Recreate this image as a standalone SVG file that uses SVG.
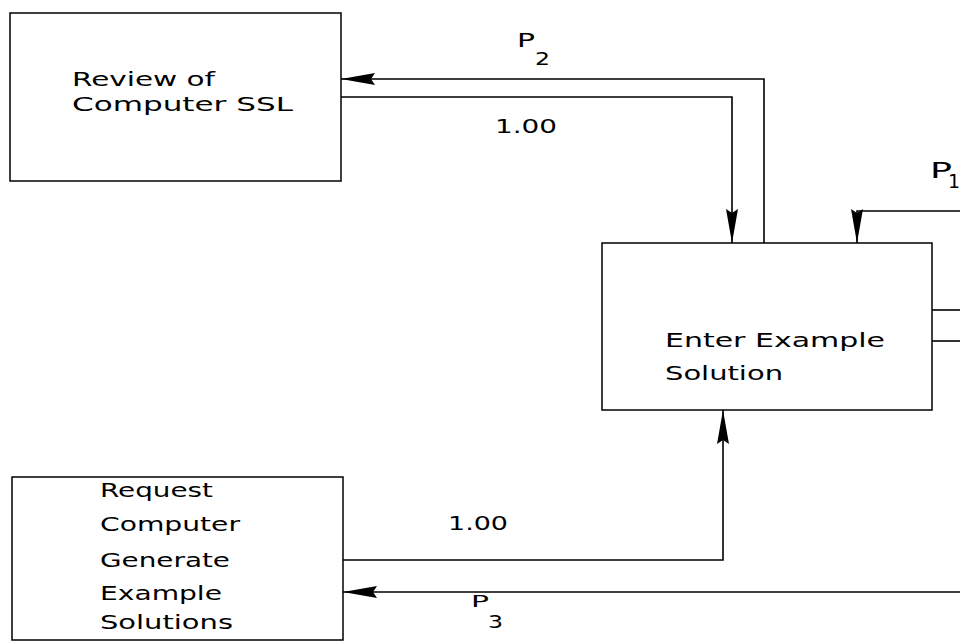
<svg xmlns="http://www.w3.org/2000/svg" width="960" height="642" viewBox="0 0 960 642">
<style>
.box{fill:#fff;stroke:#000;stroke-width:1.5}
.ln{fill:none;stroke:#000;stroke-width:1.6}
.t{font-family:"DejaVu Sans","Liberation Sans",Arial,sans-serif;font-size:20px;fill:#000}
.p{font-family:"DejaVu Sans","Liberation Sans",Arial,sans-serif;font-size:19px;fill:#000}
.s{font-family:"DejaVu Sans","Liberation Sans",Arial,sans-serif;font-size:18px;fill:#000}
</style>
<defs>
<marker id="ah" markerWidth="34" markerHeight="14" refX="34" refY="7" orient="auto" markerUnits="userSpaceOnUse">
<path d="M0,1 L34,7 L0,13 L4,7 Z" fill="#000"/>
</marker>
</defs>
<rect width="960" height="642" fill="#fff"/>
<g id="n-review">
<rect class="box" x="10" y="13" width="331" height="168"/>
<text class="t" x="72" y="86" textLength="143" lengthAdjust="spacingAndGlyphs">Review of</text>
<text class="t" x="72" y="111" textLength="221" lengthAdjust="spacingAndGlyphs">Computer SSL</text>
</g>
<g id="n-enter">
<rect class="box" x="602" y="243" width="330" height="167"/>
<text class="t" x="665" y="347" textLength="220" lengthAdjust="spacingAndGlyphs">Enter Example</text>
<text class="t" x="665" y="380" textLength="118" lengthAdjust="spacingAndGlyphs">Solution</text>
</g>
<g id="n-request">
<rect class="box" x="12" y="477" width="331" height="163"/>
<text class="t" x="100" y="497" textLength="113" lengthAdjust="spacingAndGlyphs">Request</text>
<text class="t" x="100" y="531" textLength="140" lengthAdjust="spacingAndGlyphs">Computer</text>
<text class="t" x="100" y="567" textLength="130" lengthAdjust="spacingAndGlyphs">Generate</text>
<text class="t" x="100" y="600" textLength="122" lengthAdjust="spacingAndGlyphs">Example</text>
<text class="t" x="100" y="629" textLength="133" lengthAdjust="spacingAndGlyphs">Solutions</text>
</g>
<g id="connectors">
<path class="ln" d="M764,243 L764,79 L341,79" marker-end="url(#ah)"/>
<path class="ln" d="M341,97 L732,97 L732,243" marker-end="url(#ah)"/>
<path class="ln" d="M960,211 L857,211 L857,243" marker-end="url(#ah)"/>
<path class="ln" d="M932,310 L960,310"/>
<path class="ln" d="M932,341 L960,341"/>
<path class="ln" d="M343,560 L723,560 L723,410" marker-end="url(#ah)"/>
<path class="ln" d="M960,592 L343,592" marker-end="url(#ah)"/>
<text class="p" x="517" y="47" textLength="18" lengthAdjust="spacingAndGlyphs">P</text>
<text class="s" x="535" y="65" textLength="15" lengthAdjust="spacingAndGlyphs">2</text>
<text class="t" x="495" y="133" textLength="62" lengthAdjust="spacingAndGlyphs">1.00</text>
<text class="p" x="930" y="178" style="font-size:21px" textLength="22" lengthAdjust="spacingAndGlyphs">P</text>
<text class="s" x="948" y="188" style="font-size:19px">1</text>
<text class="t" x="448" y="530" textLength="60" lengthAdjust="spacingAndGlyphs">1.00</text>
<text class="p" x="471" y="607" style="font-size:15px" textLength="18" lengthAdjust="spacingAndGlyphs">P</text>
<text class="s" x="488" y="628" textLength="15" lengthAdjust="spacingAndGlyphs">3</text>
</g>
</svg>
